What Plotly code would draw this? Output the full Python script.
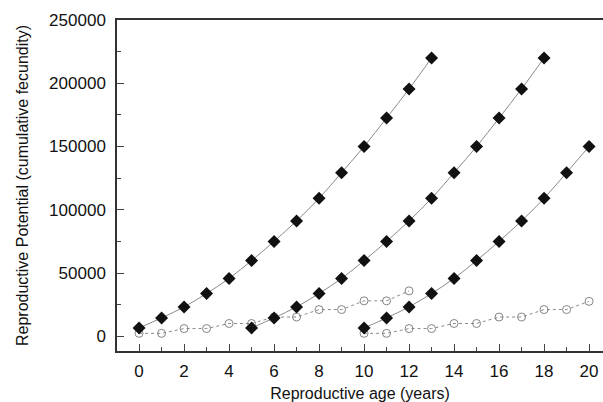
import plotly.graph_objects as go

# Cumulative fecundity (diamonds), three cohorts starting at ages 0, 5 and 10
age_a = list(range(0, 14))
potential_a = [6600, 14500, 23200, 33800, 45700, 59800, 75000, 91200, 109000, 129300, 150000, 172500, 195500, 220000]
age_b = list(range(5, 19))
potential_b = [6600, 14500, 23200, 33800, 45700, 59800, 75000, 91200, 109000, 129300, 150000, 172500, 195500, 220000]
age_c = list(range(10, 21))
potential_c = [6600, 14500, 23200, 33800, 45700, 59800, 75000, 91200, 109000, 129300, 150000]

# Open circles, dotted lines
age_d = list(range(0, 13))
potential_d = [2300, 2300, 6100, 6100, 10100, 10100, 15200, 15200, 21100, 21100, 28000, 28000, 35900]
age_e = list(range(10, 21))
potential_e = [2300, 2300, 6100, 6100, 10100, 10100, 15200, 15200, 21100, 21100, 27600]

x_ticks = list(range(0, 21, 2))
y_ticks = [0, 50000, 100000, 150000, 200000, 250000]

fig = go.Figure()

for xs, ys in [(age_d, potential_d), (age_e, potential_e)]:
    fig.add_trace(go.Scatter(
        x=xs, y=ys, mode="lines+markers",
        line=dict(color="#8a8a8a", width=1, dash="dot"),
        marker=dict(symbol="circle-open", size=8, color="#777777", line=dict(width=0.9)),
        showlegend=False, cliponaxis=False,
    ))

for xs, ys in [(age_a, potential_a), (age_b, potential_b), (age_c, potential_c)]:
    fig.add_trace(go.Scatter(
        x=xs, y=ys, mode="lines+markers",
        line=dict(color="#8a8a8a", width=1, shape="spline"),
        marker=dict(symbol="diamond", size=10, color="#111111"),
        showlegend=False, cliponaxis=False,
    ))

font_family = "Liberation Sans, Arial, sans-serif"

fig.update_layout(
    width=603, height=402,
    margin=dict(l=117, r=0, t=20, b=51, autoexpand=False),
    paper_bgcolor="white", plot_bgcolor="white",
    font=dict(family=font_family, size=17, color="#111111"),
    xaxis=dict(
        range=[-0.98, 20.62],
        tickvals=x_ticks, automargin=False,
        ticks="inside", ticklen=7, tickwidth=1, tickcolor="#444",
        minor=dict(dtick=1, tick0=0, ticks="inside", ticklen=4, tickcolor="#444", tickwidth=1),
        showline=True, linecolor="#333", linewidth=1.5, mirror=True,
        showgrid=False, zeroline=False,
        ticklabelstandoff=4,
        title=dict(text="Reproductive age (years)", standoff=8, font=dict(size=16)),
    ),
    yaxis=dict(
        range=[-11650, 250000],
        tickvals=y_ticks, tickformat="d", automargin=False,
        ticks="inside", ticklen=7, tickwidth=1, tickcolor="#444",
        minor=dict(dtick=25000, tick0=0, ticks="inside", ticklen=4, tickcolor="#444", tickwidth=1),
        showline=True, linecolor="#333", linewidth=1.5, mirror=False,
        showgrid=False, zeroline=False,
        ticklabelstandoff=6,
        title=dict(text="Reproductive Potential (cumulative fecundity)", standoff=17, font=dict(size=16)),
    ),
)

fig.write_html(
    "out.html",
    config={"displayModeBar": False},
    post_script="document.body.style.margin='0';document.body.style.overflow='hidden';",
)
